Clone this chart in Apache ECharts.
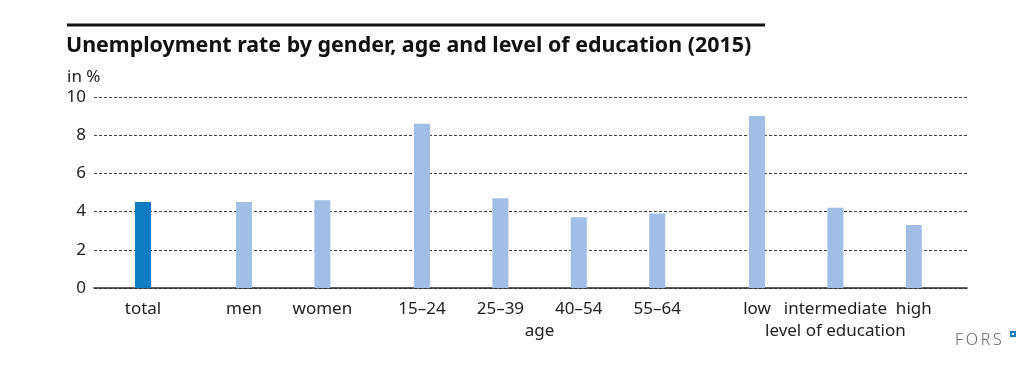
<!DOCTYPE html>
<html>
<head>
<meta charset="utf-8">
<script src="https://cdn.jsdelivr.net/npm/echarts@6/dist/echarts.min.js"></script>
<style>
html,body{margin:0;padding:0;background:#fff;}
#c{width:1035px;height:366px;}
</style>
</head>
<body>
<div id="c"></div>
<script>
// ---- data ----
var groupCategories = [
  ['total'],
  ['men', 'women'],
  ['15\u201324', '25\u201339', '40\u201354', '55\u201364'],
  ['low', 'intermediate', 'high']
];
var groupNames = ['', '', 'age', 'level of education'];
var totalValues = [4.5];
var genderValues = [4.5, 4.6];
var ageValues = [8.6, 4.7, 3.7, 3.9];
var educationValues = [9.0, 4.2, 3.3];
var yTicks = [0, 2, 4, 6, 8, 10];
var titleText = 'Unemployment rate by gender, age and level of education (2015)';
var unitText = 'in %';
var sourceText = 'F\u2009O\u2009R\u2009S';

// ---- layout ----
var W = 1035, H = 366;
var plotTop = 97, plotBottom = 78;
var plotLeft = 94, plotRightEdge = 967;
var band = 78.4;
var groupFirstCenter = [143, 244, 422, 757];
var groupValues = [totalValues, genderValues, ageValues, educationValues];
var darkBlue = '#0e7dc4', lightBlue = '#a2bee6';
var font = '"Noto Sans", "Open Sans", sans-serif';

var grids = [{left: plotLeft, right: W - plotRightEdge, top: plotTop, bottom: plotBottom}];
var xAxes = [{
  gridIndex: 0, type: 'value', min: 0, max: 1,
  axisLine: {show: true, lineStyle: {color: '#2a2a2a', width: 1.5}},
  axisTick: {show: false}, axisLabel: {show: false}, splitLine: {show: false}
}];
var yAxes = [{
  gridIndex: 0, type: 'value', min: yTicks[0], max: yTicks[yTicks.length - 1],
  interval: yTicks[1] - yTicks[0],
  axisLine: {show: false}, axisTick: {show: false},
  axisLabel: {color: '#222', fontSize: 17, fontFamily: font, margin: 8},
  splitLine: {show: true, lineStyle: {color: '#444', type: [3, 2], width: 1}}
}];
var series = [];
groupCategories.forEach(function (cats, g) {
  var left = groupFirstCenter[g] - band / 2;
  var width = band * cats.length;
  grids.push({left: left, width: width, top: plotTop, bottom: plotBottom});
  xAxes.push({
    gridIndex: g + 1, type: 'category', data: cats,
    name: groupNames[g], nameLocation: 'middle', nameGap: 35,
    nameTextStyle: {color: '#222', fontSize: 17, fontFamily: font},
    axisLine: {show: false}, axisTick: {show: false},
    axisLabel: {color: '#222', fontSize: 17, fontFamily: font, margin: 13, interval: 0}
  });
  yAxes.push({
    gridIndex: g + 1, type: 'value', min: yTicks[0], max: yTicks[yTicks.length - 1],
    show: false, splitLine: {show: false}
  });
  series.push({
    type: 'bar', xAxisIndex: g + 1, yAxisIndex: g + 1,
    data: groupValues[g], barWidth: 16, silent: true,
    itemStyle: {color: g === 0 ? darkBlue : lightBlue}
  });
});

var chart = echarts.init(document.getElementById('c'), null, {renderer: 'canvas'});
chart.setOption({
  animation: false,
  backgroundColor: '#fff',
  grid: grids,
  xAxis: xAxes,
  yAxis: yAxes,
  series: series,
  graphic: [
    {type: 'rect', shape: {x: 67, y: 23.5, width: 698, height: 3}, style: {fill: '#111'}},
    {type: 'text', left: 66, top: 35, style: {text: titleText, fill: '#111', font: 'bold 21.4px ' + font}},
    {type: 'text', left: 67, top: 69, style: {text: unitText, fill: '#222', font: '17px ' + font}},
    {type: 'text', left: 955, top: 332, style: {text: sourceText, fill: '#666', font: '300 16px ' + font}},
    {type: 'rect', shape: {x: 1010, y: 331, width: 6, height: 6}, style: {fill: '#0e7dc4'}},
    {type: 'rect', shape: {x: 1012, y: 333, width: 2, height: 2}, style: {fill: '#fff'}}
  ]
});
</script>
</body>
</html>
